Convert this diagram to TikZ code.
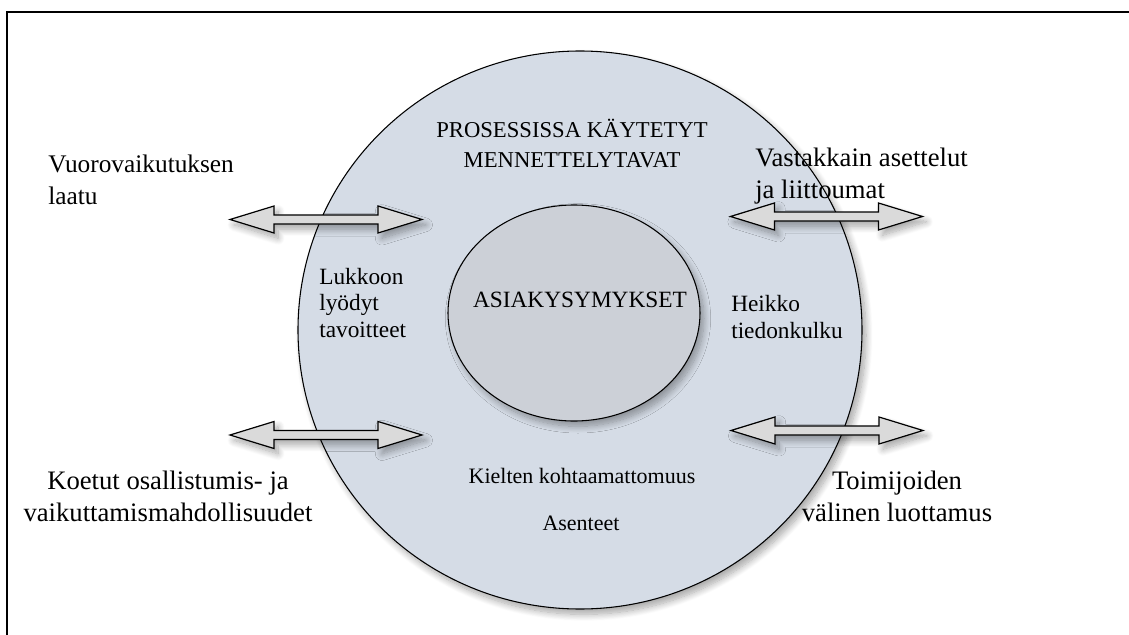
\documentclass[tikz,border=0pt]{standalone}
\usepackage{fontspec}
\setmainfont{Liberation Serif}
\usetikzlibrary{shapes.geometric,shadows.blur}
\definecolor{outerfill}{RGB}{213,220,230}
\definecolor{innerfill}{RGB}{204,208,215}
\definecolor{arrowfill}{RGB}{218,218,218}
\tikzset{
  big/.style={font=\fontsize{20}{24}\selectfont, inner sep=0pt},
  small/.style={font=\fontsize{17.5}{20}\selectfont, inner sep=0pt},
  softshadow/.style={blur shadow={shadow blur steps=12, shadow xshift=3pt, shadow yshift=-4pt, shadow opacity=35, shadow blur radius=5pt}},
  dblarrow/.pic={
    \draw[fill=arrowfill, line width=0.9pt, line join=miter, softshadow]
      (-96,0) -- (-52,-13.5) -- (-52,-4.5) -- (52,-4.5) -- (52,-13.5) -- (96,0)
      -- (52,13.5) -- (52,4.5) -- (-52,4.5) -- (-52,13.5) -- cycle;
  }
}
\begin{document}
\begin{tikzpicture}[x=0.75pt,y=-0.75pt]
\useasboundingbox (0,0) rectangle (1129,635);
\clip (0,0) rectangle (1129,635);
\draw[line width=1.6pt] (7,12) rectangle (1160,660);

\node[ellipse, draw, line width=0.8pt, fill=outerfill, minimum width=423pt, minimum height=418.5pt, softshadow] (outer) at (580,330) {};
\node[ellipse, draw, line width=0.8pt, fill=innerfill, minimum width=189pt, minimum height=162pt, softshadow] (inner) at (574,313) {};

\pic (arrLT) at (326,219.5) {dblarrow};
\pic (arrRT) at (826.5,216.5) {dblarrow};
\pic (arrLB) at (326,435) {dblarrow};
\pic (arrRB) at (827,430.5) {dblarrow};

\node[big, font=\fontsize{19}{24}\selectfont, align=left, anchor=west] (vuoro) at (48,180) {Vuorovaikutuksen\\laatu};
\node[big, align=left, anchor=west] (vast) at (755,176) {Vastakkain asettelut\\ja liittoumat};
\node[big, align=center] (koetut) at (168,496) {Koetut osallistumis- ja\\vaikuttamismahdollisuudet};
\node[big, align=center] (toimij) at (897,496) {Toimijoiden\\välinen luottamus};

\node[small, font=\fontsize{17}{22.5}\selectfont, align=center] (proses) at (572,143) {PROSESSISSA KÄYTETYT\\MENNETTELYTAVAT};
\node[small, align=left, anchor=west] (lukko) at (319,303) {Lukkoon\\lyödyt\\tavoitteet};
\node[small] (asia) at (580,300) {ASIAKYSYMYKSET};
\node[small, align=left, anchor=west] (heikko) at (731,317) {Heikko\\tiedonkulku};
\node[small, font=\fontsize{16.5}{20}\selectfont] (kielten) at (582,476) {Kielten kohtaamattomuus};
\node[small, font=\fontsize{16.5}{20}\selectfont] (asenteet) at (581,523) {Asenteet};
\end{tikzpicture}
\end{document}
